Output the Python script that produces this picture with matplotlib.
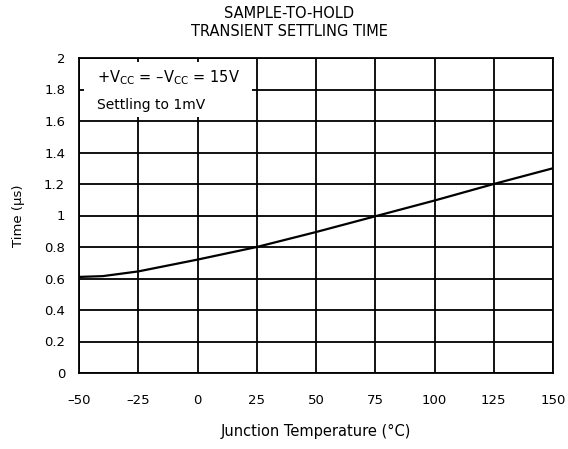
import numpy as np
import matplotlib.pyplot as plt
from matplotlib.patches import Rectangle

temp = [-50, -40, -25, 0, 25, 50, 75, 100, 125, 150]
settle = [0.61, 0.615, 0.645, 0.72, 0.80, 0.895, 0.995, 1.095, 1.20, 1.30]

xticks = [-50, -25, 0, 25, 50, 75, 100, 125, 150]
xlabels = ['–50', '–25', '0', '25', '50', '75', '100', '125', '150']
yticks = [0, 0.2, 0.4, 0.6, 0.8, 1, 1.2, 1.4, 1.6, 1.8, 2]
ylabels = ['0', '0.2', '0.4', '0.6', '0.8', '1', '1.2', '1.4', '1.6', '1.8', '2']

plt.rcParams['font.family'] = ['DejaVu Sans']

fig = plt.figure(figsize=(5.68, 4.49), dpi=100)
ax = fig.add_axes([79 / 568, 1 - 373 / 449, (553 - 79) / 568, (373 - 58) / 449])

ax.plot(temp, settle, color='black', linewidth=1.6, zorder=4)

ax.set_xlim(-50, 150)
ax.set_ylim(0, 2)
ax.set_xticks(xticks)
ax.set_xticklabels(xlabels)
ax.set_yticks(yticks)
ax.set_yticklabels(ylabels)
ax.tick_params(length=0, labelsize=9.5)
ax.tick_params(axis='x', pad=15)
ax.tick_params(axis='y', pad=10)
ax.grid(color='black', linewidth=1.3)
for s in ax.spines.values():
    s.set_linewidth(1.3)

# white box for the conditions text, leaves little stubs of the grid
ax.add_patch(Rectangle((-48, 1.625), 71, 0.35, facecolor='white',
                       edgecolor='none', zorder=3))
ax.text(-42.5, 1.873, '+V$_{\\rm CC}$ = –V$_{\\rm CC}$ = 15V', fontsize=10.5,
        va='center', zorder=5)
ax.text(-42.5, 1.70, 'Settling to 1mV', fontsize=10, va='center', zorder=5)

ax.set_xlabel('Junction Temperature (°C)', fontsize=10.5, labelpad=12)
ax.set_ylabel('Time (μs)', fontsize=9.5, labelpad=14)

fig.text(289 / 568, 1 - 14 / 449, 'SAMPLE-TO-HOLD', ha='center', va='center',
         fontsize=10.5)
fig.text(289 / 568, 1 - 32 / 449, 'TRANSIENT SETTLING TIME', ha='center',
         va='center', fontsize=10.5)

fig.savefig('out.png', dpi=100)
